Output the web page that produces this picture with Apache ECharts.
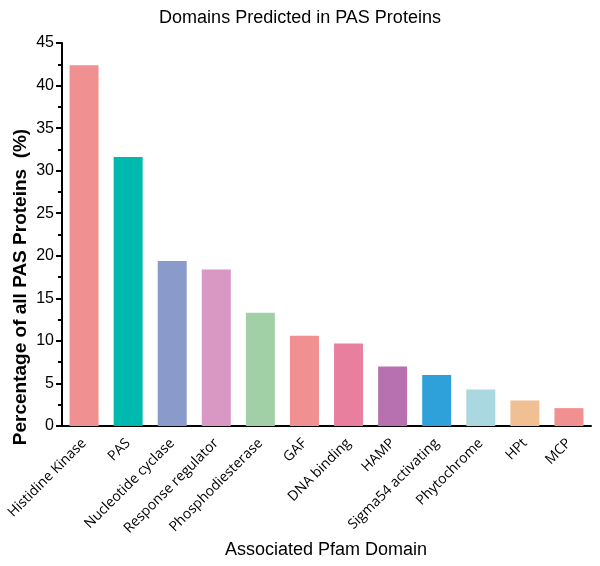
<!DOCTYPE html>
<html>
<head>
<meta charset="utf-8">
<script src="https://cdn.jsdelivr.net/npm/echarts@6/dist/echarts.min.js"></script>
<style>
  html, body { margin: 0; padding: 0; background: #fff; }
  #main { width: 600px; height: 566px; }
</style>
</head>
<body>
<div id="main"></div>
<script>
  const domains = ['Histidine Kinase', 'PAS', 'Nucleotide cyclase', 'Response regulator',
    'Phosphodiesterase', 'GAF', 'DNA binding', 'HAMP', 'Sigma54 activating',
    'Phytochrome', 'HPt', 'MCP'];
  const percents = [42.4, 31.6, 19.4, 18.4, 13.3, 10.6, 9.7, 7.0, 6.0, 4.3, 3.0, 2.1];
  const barColors = ['#f19090', '#00b9ae', '#8a9bcb', '#d898c3', '#a2d0a6', '#f19090',
    '#e97f9f', '#b771b0', '#2fa1da', '#a9d8e1', '#f0c092', '#f19090'];

  let myChart = echarts.init(document.getElementById('main'));

  let option = {
    animation: false,
    title: {
      text: 'Domains Predicted in PAS Proteins',
      left: 'center',
      top: 4,
      textStyle: {
        fontFamily: 'Liberation Sans',
        fontSize: 18,
        fontWeight: 'normal',
        color: '#000'
      }
    },
    grid: {
      left: 62,
      right: 9,
      top: 43,
      bottom: 140
    },
    xAxis: {
      type: 'category',
      data: domains,
      axisLine: { lineStyle: { color: '#000', width: 2 } },
      axisTick: { alignWithLabel: true, length: 6, lineStyle: { color: '#000', width: 2 } },
      axisLabel: {
        rotate: 45,
        interval: 0,
        margin: 15,
        fontFamily: 'Open Sans',
        fontSize: 14,
        color: '#000'
      }
    },
    yAxis: {
      type: 'value',
      min: 0,
      max: 45,
      interval: 5,
      axisLine: { show: true, lineStyle: { color: '#000', width: 2 } },
      axisTick: { show: true, length: 6, lineStyle: { color: '#000', width: 2 } },
      minorTick: { show: true, splitNumber: 2, length: 4, lineStyle: { color: '#000', width: 2 } },
      splitLine: { show: false },
      axisLabel: {
        margin: 8,
        fontFamily: 'Liberation Sans',
        fontSize: 16,
        color: '#000'
      }
    },
    graphic: [{
      type: 'text',
      x: 21,
      y: 287,
      rotation: Math.PI / 2,
      style: {
        text: 'Percentage of all PAS Proteins  (%)',
        fontFamily: 'Liberation Sans',
        fontSize: 19,
        fontWeight: 'bold',
        fill: '#000',
        align: 'center',
        verticalAlign: 'middle'
      }
    }, {
      type: 'text',
      x: 326,
      y: 550,
      style: {
        text: 'Associated Pfam Domain',
        fontFamily: 'Liberation Sans',
        fontSize: 18,
        fill: '#000',
        align: 'center',
        verticalAlign: 'middle'
      }
    }],
    series: [{
      type: 'bar',
      barWidth: 29,
      data: percents.map((v, i) => ({ value: v, itemStyle: { color: barColors[i] } }))
    }]
  };

  myChart.setOption(option);
</script>
</body>
</html>
